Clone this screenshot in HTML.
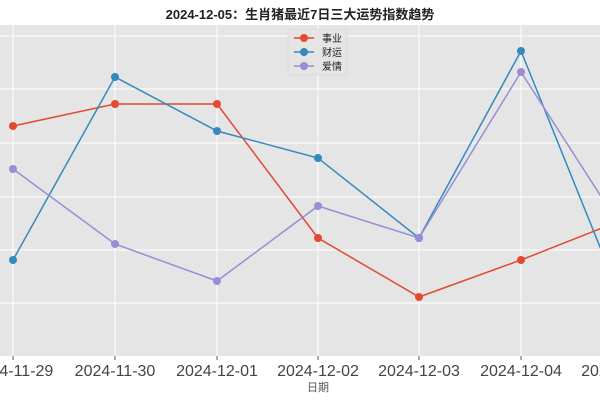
<!DOCTYPE html>
<html><head><meta charset="utf-8"><style>
body{margin:0;background:#fff}
svg text{font-family:"Liberation Sans","Noto Sans CJK SC",sans-serif}
</style></head><body>
<svg width="600" height="400" xmlns="http://www.w3.org/2000/svg">
<rect x="0" y="0" width="600" height="400" fill="#fff"/>
<rect x="0" y="25" width="600" height="331" fill="#e5e5e5"/>
<g stroke="#fff" stroke-width="1">
<line x1="0" x2="600" y1="36" y2="36"/><line x1="0" x2="600" y1="89" y2="89"/>
<line x1="0" x2="600" y1="143" y2="143"/><line x1="0" x2="600" y1="197" y2="197"/>
<line x1="0" x2="600" y1="250" y2="250"/><line x1="0" x2="600" y1="303" y2="303"/>
<line y1="25" y2="356" x1="13" x2="13"/><line y1="25" y2="356" x1="115" x2="115"/>
<line y1="25" y2="356" x1="217" x2="217"/><line y1="25" y2="356" x1="318" x2="318"/>
<line y1="25" y2="356" x1="419" x2="419"/><line y1="25" y2="356" x1="521" x2="521"/>
</g>
<g stroke="#555" stroke-width="1">
<line x1="13" x2="13" y1="356" y2="360"/><line x1="115" x2="115" y1="356" y2="360"/>
<line x1="217" x2="217" y1="356" y2="360"/><line x1="318" x2="318" y1="356" y2="360"/>
<line x1="419" x2="419" y1="356" y2="360"/><line x1="521" x2="521" y1="356" y2="360"/>
</g>
<g fill="none" stroke-width="1.5">
<polyline stroke="#e24a33" points="13,126 115,104 217,104 318,238 419,297 521,260 602,228"/>
<polyline stroke="#348abd" points="13,260 115,77 217,131 318,158 419,238 521,51 602,252"/>
<polyline stroke="#988ed5" points="13,169 115,244 217,281 318,206 419,238 521,72 602,198"/>
</g>
<g fill="#e24a33"><circle cx="13" cy="126" r="4"/><circle cx="115" cy="104" r="4"/><circle cx="217" cy="104" r="4"/><circle cx="318" cy="238" r="4"/><circle cx="419" cy="297" r="4"/><circle cx="521" cy="260" r="4"/></g>
<g fill="#348abd"><circle cx="13" cy="260" r="4"/><circle cx="115" cy="77" r="4"/><circle cx="217" cy="131" r="4"/><circle cx="318" cy="158" r="4"/><circle cx="419" cy="238" r="4"/><circle cx="521" cy="51" r="4"/></g>
<g fill="#988ed5"><circle cx="13" cy="169" r="4"/><circle cx="115" cy="244" r="4"/><circle cx="217" cy="281" r="4"/><circle cx="318" cy="206" r="4"/><circle cx="419" cy="238" r="4"/><circle cx="521" cy="72" r="4"/></g>
<rect x="288" y="29" width="59" height="46" fill="#e5e5e5" stroke="#d0d0d0" stroke-width="0.5" rx="2"/>
<g stroke-width="1.5">
<line x1="294" x2="314" y1="38" y2="38" stroke="#e24a33"/><circle cx="304" cy="38" r="4" fill="#e24a33"/>
<line x1="294" x2="314" y1="52" y2="52" stroke="#348abd"/><circle cx="304" cy="52" r="4" fill="#348abd"/>
<line x1="294" x2="314" y1="66" y2="66" stroke="#988ed5"/><circle cx="304" cy="66" r="4" fill="#988ed5"/>
</g>
<g font-size="10" fill="#222"><text x="322" y="42">事业</text><text x="322" y="56">财运</text><text x="322" y="70">爱情</text></g>
<text x="300" y="19" font-size="13" font-weight="bold" text-anchor="middle" fill="#222">2024-12-05：生肖猪最近7日三大运势指数趋势</text>
<g font-size="16" fill="#444" text-anchor="middle">
<text x="13" y="376">2024-11-29</text><text x="115" y="376">2024-11-30</text><text x="217" y="376">2024-12-01</text>
<text x="318" y="376">2024-12-02</text><text x="419" y="376">2024-12-03</text><text x="521" y="376">2024-12-04</text><text x="622" y="376">2024-12-05</text>
</g>
<text x="318" y="391" font-size="11" fill="#555" text-anchor="middle">日期</text>
</svg>
</body></html>
